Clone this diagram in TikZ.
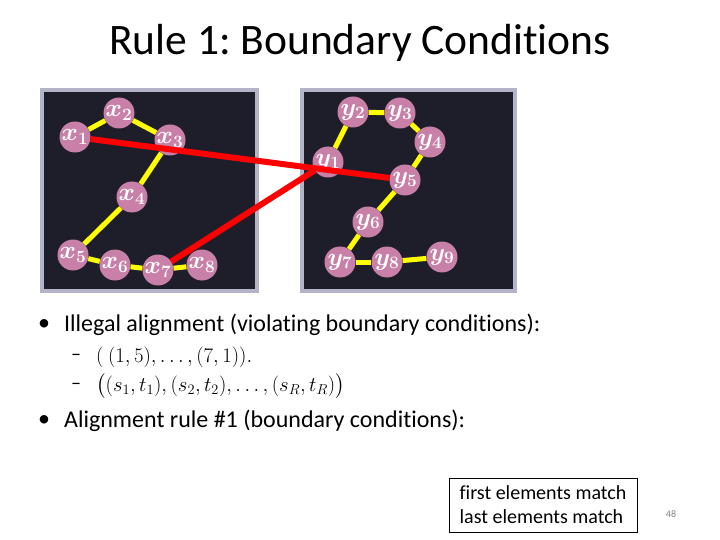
\documentclass[tikz,border=0pt]{standalone}
\usepackage{amsmath}
\usepackage{fontspec}
\setmainfont{Carlito}[Ligatures=NoCommon]
\frenchspacing
\definecolor{paneldark}{HTML}{1E1E2A}
\definecolor{panelborder}{HTML}{B4B4C8}
\definecolor{nodepink}{HTML}{C880A8}
\definecolor{lineyellow}{HTML}{FFFF00}
\definecolor{linered}{HTML}{FF0000}
\begin{document}
\begin{tikzpicture}[x=1pt,y=-1pt,
  panel/.style={draw=panelborder, line width=4pt, fill=paneldark},
  nd/.style={circle, fill=nodepink, minimum size=31pt, inner sep=0pt, text=white, font=\fontsize{24}{24}\selectfont\boldmath},
  yl/.style={draw=lineyellow, line width=5pt},
  rd/.style={draw=linered, line width=6pt},
  txt/.style={anchor=west, inner sep=0pt, font=\fontsize{24}{24}\selectfont},
  mtxt/.style={anchor=west, inner sep=0pt, font=\fontsize{20}{20}\selectfont}]
\useasboundingbox (0,0) rectangle (720,540);
\node (title) at (360,43) {\fontsize{43.5}{44}\selectfont Rule 1: Boundary Conditions};
% panels
\draw[panel] (42,90) rectangle (256.5,291);
\draw[panel] (302,90) rectangle (515,291);
% nodes x
\node[nd] (x1) at (75,137) {$x_1$};
\node[nd] (x2) at (119,113) {$x_2$};
\node[nd] (x3) at (170,140) {$x_3$};
\node[nd] (x4) at (132,197) {$x_4$};
\node[nd] (x5) at (73,255) {$x_5$};
\node[nd] (x6) at (115,265) {$x_6$};
\node[nd] (x7) at (158,270) {$x_7$};
\node[nd] (x8) at (202,265) {$x_8$};
% nodes y
\node[nd] (y1) at (328,162) {$y_1$};
\node[nd] (y2) at (353,112) {$y_2$};
\node[nd] (y3) at (400,113) {$y_3$};
\node[nd] (y4) at (430,142) {$y_4$};
\node[nd] (y5) at (405,180) {$y_5$};
\node[nd] (y6) at (368,222) {$y_6$};
\node[nd] (y7) at (340,262) {$y_7$};
\node[nd] (y8) at (387,262) {$y_8$};
\node[nd] (y9) at (442,257) {$y_9$};
% yellow edges
\draw[yl] (x1) -- (x2); \draw[yl] (x2) -- (x3); \draw[yl] (x3) -- (x4);
\draw[yl] (x4) -- (x5); \draw[yl] (x5) -- (x6); \draw[yl] (x6) -- (x7);
\draw[yl] (x7) -- (x8);
\draw[yl] (y1) -- (y2); \draw[yl] (y2) -- (y3); \draw[yl] (y3) -- (y4);
\draw[yl] (y4) -- (y5); \draw[yl] (y5) -- (y6); \draw[yl] (y6) -- (y7);
\draw[yl] (y7) -- (y8); \draw[yl] (y8) -- (y9);
% red edges
\draw[rd] (x1) -- (y5);
\draw[rd] (x7) -- (y1);
% text
\node[txt] (b1) at (38,325) {•};
\node[txt] (t1) at (64,325) {Illegal alignment (violating boundary conditions):};
\node[mtxt] (d1) at (71,357) {–};
\node[mtxt] (m1) at (96,357) {$(~(1,5),\dots,(7,1)).$};
\node[mtxt] (d2) at (71,386) {–};
\node[mtxt] (m2) at (96,386) {$\bigl((s_1,t_1),(s_2,t_2),\dots,(s_R,t_R)\bigr)$};
\node[txt] (b2) at (38,421) {•};
\node[txt] (t2) at (64,421) {Alignment rule \#1 (boundary conditions):};
% box
\node[draw, line width=1pt, minimum width=188pt, minimum height=54pt, align=left, font=\fontsize{20}{24}\selectfont] (box) at (543,505) {first elements match\\last elements match};
\node[text=gray, font=\fontsize{10}{10}\selectfont] (pg) at (671,514) {48};
\end{tikzpicture}
\end{document}
